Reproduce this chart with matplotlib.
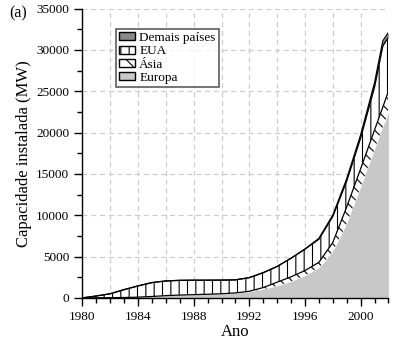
import numpy as np
import matplotlib
matplotlib.use("Agg")
import matplotlib.pyplot as plt
from matplotlib.patches import Patch
from matplotlib.ticker import MultipleLocator

plt.rcParams['font.family'] = ['Liberation Serif', 'DejaVu Serif']
plt.rcParams['hatch.linewidth'] = 0.8

years = [1980, 1981, 1982, 1983, 1984, 1985, 1986, 1987, 1988, 1989, 1990,
         1991, 1992, 1993, 1994, 1995, 1996, 1997, 1998, 1999, 2000, 2001,
         2001.6, 2002]
europa = [0, 10, 20, 40, 80, 150, 250, 320, 370, 420, 480, 570, 730, 1050,
          1450, 2000, 2700, 3650, 5600, 9000, 13400, 18000, 20700, 22400]
asia = [0, 0, 0, 5, 10, 20, 20, 20, 20, 20, 20, 30, 70, 200, 450, 550, 600,
        650, 1100, 2000, 2200, 2300, 2400, 2600]
eua = [0, 220, 480, 955, 1360, 1680, 1780, 1780, 1750, 1700, 1650, 1580,
       1650, 1800, 1900, 2250, 2600, 2800, 3150, 3150, 3750, 5200, 7400, 6500]
demais = [0, 0, 0, 0, 0, 0, 0, 0, 0, 0, 0, 0, 0, 0, 0, 0, 0, 100, 150, 250,
          350, 500, 600, 600]

labels = ['Europa', 'Ásia', 'EUA', 'Demais países']
colors = ['#c8c8c8', 'white', 'white', '#8a8a8a']
hatches = [None, '\\\\\\', '||', None]

fig = plt.figure(figsize=(4.08, 3.42), dpi=100)
ax = fig.add_axes([0.202, 0.129, 0.750, 0.846])

x = np.array(years, dtype=float)
series = [np.array(s, dtype=float) for s in (europa, asia, eua, demais)]
base = np.zeros_like(x)
for s, c, h, lab in zip(series, colors, hatches, labels):
    top = base + s
    ax.fill_between(x, base, top, facecolor=c, edgecolor='black',
                    hatch=h, linewidth=0)
    if lab != 'Europa':
        ax.plot(x, top, color='black', lw=0.9)
    base = top

ax.set_xlim(1980, 2002)
ax.set_ylim(0, 35000)
ax.xaxis.set_major_locator(MultipleLocator(4))
ax.xaxis.set_minor_locator(MultipleLocator(1))
ax.yaxis.set_major_locator(MultipleLocator(5000))
ax.yaxis.set_minor_locator(MultipleLocator(2500))

# grid every 2 years
for gx in range(1982, 2003, 2):
    ax.axvline(gx, color='#cccccc', ls=(0, (4, 3)), lw=0.9, zorder=0)
for gy in range(5000, 35001, 5000):
    ax.axhline(gy, color='#cccccc', ls=(0, (4, 3)), lw=0.9, zorder=0)

for sp in ['top', 'right']:
    ax.spines[sp].set_visible(False)
ax.spines['left'].set_linewidth(1.0)
ax.spines['bottom'].set_linewidth(1.0)
ax.tick_params(which='major', direction='out', length=6, width=1.0,
               labelsize=9.5)
ax.tick_params(which='minor', direction='out', length=3.5, width=1.0)

ax.set_xlabel('Ano', fontsize=12, labelpad=1)
ax.set_ylabel('Capacidade instalada (MW)', fontsize=12, labelpad=3)

handles = [Patch(facecolor='#8a8a8a', edgecolor='black', label='Demais países'),
           Patch(facecolor='white', edgecolor='black', hatch='||', label='EUA'),
           Patch(facecolor='white', edgecolor='black', hatch='\\\\', label='Ásia'),
           Patch(facecolor='#c8c8c8', edgecolor='black', label='Europa')]
leg = ax.legend(handles=handles, loc='upper left', bbox_to_anchor=(0.11, 0.93),
                fontsize=9.5, frameon=True, fancybox=False, edgecolor='#333333',
                handlelength=1.2, handleheight=0.55, handletextpad=0.3,
                labelspacing=0.1, borderpad=0.25, borderaxespad=0)
leg.get_frame().set_linewidth(1.2)

fig.text(0.022, 0.95, '(a)', fontsize=11.5)

fig.savefig('out.png', dpi=100)
